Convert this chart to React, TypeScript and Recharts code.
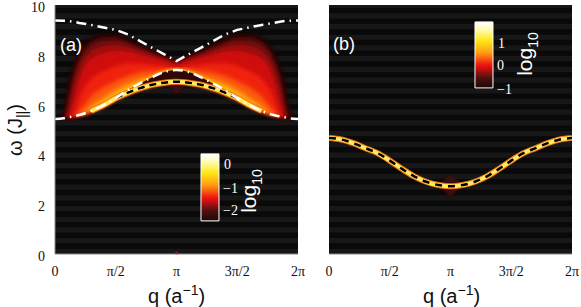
import React from 'react';
import { ComposedChart, Area, Line, XAxis, YAxis, ReferenceArea, ReferenceDot } from 'recharts';

const PI = Math.PI;
const qTicks = [0, PI / 2, PI, (3 * PI) / 2, 2 * PI];
const qTickLabels = ['0', 'π/2', 'π', '3π/2', '2π'];
const wTicks = [0, 2, 4, 6, 8, 10];
const stripeLows = [0, 0.43, 0.86, 1.29, 1.72, 2.15, 2.58, 3.01, 3.44, 3.87, 4.3, 4.73, 5.16, 5.59, 6.02, 6.45, 6.88, 7.31, 7.74, 8.17, 8.6, 9.03, 9.46, 9.89];
const stripeHeight = 0.21;

// panel (a), grid in units of pi over the left half; the picture is mirror-symmetric about q = pi
const gridA = [0, 0.07, 0.1, 0.15, 0.2, 0.3, 0.4, 0.5, 0.6, 0.7, 0.8, 0.9, 1];
const upperA = [9.38, 9.37, 9.36, 9.33, 9.28, 9.2, 9.1, 9.0, 8.82, 8.55, 8.28, 8.02, 7.75];
const innerA = [5.42, 5.45, 5.48, 5.53, 5.58, 5.75, 5.98, 6.26, 6.58, 6.85, 7.1, 7.31, 7.39];
const edgeA = [5.42, 5.45, 5.48, 5.53, 5.58, 5.75, 5.98, 6.26, 6.48, 6.66, 6.8, 6.88, 6.92];
const smearA = [5.42, 5.45, 5.48, 5.53, 5.58, 5.75, 5.98, 6.26, 6.48, 6.66, 6.8, 6.88, 6.4];
const lv1 = [5.42, 5.6, 6.7, 7.6, 8.15, 8.7, 8.85, 8.85, 8.65, 8.45, 8.2, 7.98, 7.75];
const lv2 = [5.42, 5.5, 6.2, 7.3, 7.95, 8.55, 8.72, 8.72, 8.55, 8.35, 8.12, 7.93, 7.73];
const lv3 = [5.42, 5.45, 5.8, 7.0, 7.7, 8.38, 8.55, 8.58, 8.45, 8.25, 8.05, 7.88, 7.7];
const lv4 = [5.42, 5.45, 5.5, 6.6, 7.4, 8.15, 8.35, 8.4, 8.32, 8.15, 7.97, 7.82, 7.66];
const lv5 = [5.42, 5.45, 5.48, 6.1, 7.0, 7.85, 8.05, 8.15, 8.12, 8.0, 7.87, 7.75, 7.6];
const lv6 = [5.42, 5.45, 5.48, 5.6, 6.3, 7.05, 7.35, 7.55, 7.65, 7.65, 7.6, 7.55, 7.45];
const lv7 = [5.42, 5.45, 5.48, 5.53, 5.75, 6.35, 6.7, 6.95, 7.15, 7.3, 7.35, 7.38, 7.39];
const lv8 = [5.42, 5.45, 5.48, 5.53, 5.58, 5.95, 6.28, 6.6, 6.85, 7.02, 7.12, 7.31, 7.39];
const lv9 = [5.42, 5.45, 5.48, 5.53, 5.58, 5.75, 6.05, 6.35, 6.62, 6.85, 7.1, 7.31, 7.39];
const levelColors = ['#220505', '#450707', '#720909', '#a00b0b', '#d00d0d', '#f02010', '#fa5a0a', '#ffa010', '#ffe020'];
const levels = [lv1, lv2, lv3, lv4, lv5, lv6, lv7, lv8, lv9];

// panel (b)
const gridB = [0, 0.1, 0.2, 0.3, 0.4, 0.5, 0.6, 0.7, 0.8, 0.9, 1];
const bandB = [4.66, 4.6, 4.45, 4.25, 4.05, 3.75, 3.42, 3.12, 2.9, 2.77, 2.72];
const smearB = [4.66, 4.6, 4.45, 4.25, 4.05, 3.75, 3.42, 3.12, 2.9, 2.77, 2.25];
const smearBHigh = [4.66, 4.6, 4.45, 4.25, 4.05, 3.75, 3.42, 3.12, 2.9, 2.77, 3.2];

const mirrorV = (a: number[]) => [...a, ...a.slice(0, -1).reverse()];
const mirrorQ = (g: number[]) => [...g, ...g.slice(0, -1).reverse().map((v) => 2 - v)];

const qA = mirrorQ(gridA);
const dataA = qA.map((g, i) => {
  const row: any = {
    q: g * PI,
    upper: mirrorV(upperA)[i],
    inner: mirrorV(innerA)[i],
    gap: [mirrorV(edgeA)[i], mirrorV(innerA)[i]],
    smear: [mirrorV(smearA)[i], mirrorV(edgeA)[i]],
    main: g >= 0.3 && g <= 1.7 ? mirrorV(edgeA)[i] : null,
    dash: g >= 0.5 && g <= 1.5 ? mirrorV(edgeA)[i] : null,
  };
  levels.forEach((l, k) => {
    row['lv' + k] = [mirrorV(edgeA)[i], mirrorV(l)[i]];
  });
  return row;
});
const qB = mirrorQ(gridB);
const dataB = qB.map((g, i) => ({
  q: g * PI,
  band: mirrorV(bandB)[i],
  smear: [mirrorV(smearB)[i], mirrorV(smearBHigh)[i]],
}));

const serif = '"Liberation Serif", serif';
const sans = '"Liberation Sans", sans-serif';
const tickStyle = { fontFamily: serif, fontSize: 14, fill: '#111' };

const BarGradient = ({ id }: { id: string }) => (
  <linearGradient id={id} x1="0" y1="0" x2="0" y2="1">
    <stop offset="0" stopColor="#ffffff" />
    <stop offset="0.12" stopColor="#fffbb0" />
    <stop offset="0.28" stopColor="#ffe81a" />
    <stop offset="0.47" stopColor="#ff9a10" />
    <stop offset="0.66" stopColor="#f01010" />
    <stop offset="0.85" stopColor="#501010" />
    <stop offset="1" stopColor="#1a0808" />
  </linearGradient>
);

const Label = ({ x, y, size, font, children }: any) => (
  <div style={{ position: 'absolute', left: x, top: y, fontFamily: font, fontSize: size, color: '#fff', lineHeight: 1, whiteSpace: 'nowrap' }}>{children}</div>
);
const Rotated = ({ cx, cy, size, color, children }: any) => (
  <div style={{ position: 'absolute', left: cx, top: cy, fontFamily: sans, fontSize: size, color, lineHeight: 1, whiteSpace: 'nowrap', transform: 'translate(-50%,-50%) rotate(-90deg)' }}>{children}</div>
);
const XTitle = ({ x }: { x: number }) => (
  <div style={{ position: 'absolute', left: x, top: 286, fontFamily: sans, fontSize: 20, color: '#111', lineHeight: 1, whiteSpace: 'nowrap' }}>
    q (a<sup style={{ fontSize: 14, lineHeight: 0 }}>−1</sup>)
  </div>
);

const stripes = stripeLows.map((s) => (
  <ReferenceArea key={s} y1={s} y2={s + stripeHeight} fill="#171717" fillOpacity={1} stroke="none" ifOverflow="hidden" />
));
const backdrop = <ReferenceArea y1={0} y2={10} fill="#090909" fillOpacity={1} stroke="none" />;

const xAxis = (
  <XAxis type="number" dataKey="q" domain={[0, 2 * PI]} ticks={qTicks} interval={0} tickFormatter={(_: any, i: number) => qTickLabels[i]} tick={tickStyle} tickLine={false} axisLine={{ stroke: '#888' }} tickMargin={6} height={53} allowDataOverflow />
);

const PanelA = () => (
  <ComposedChart width={320} height={307} data={dataA} margin={{ top: 5, right: 22, bottom: 0, left: 0 }} style={{ position: 'absolute', left: 0, top: 0 }}>
    <defs>
      <BarGradient id="cbA" />
      <filter id="soft" x="-5%" y="-5%" width="110%" height="110%"><feGaussianBlur stdDeviation="2" /></filter>
      <filter id="softS" x="-30%" y="-30%" width="160%" height="160%"><feGaussianBlur stdDeviation="1.5" /></filter>
      <linearGradient id="gapFill" x1="0" y1="0" x2="1" y2="0">
        <stop offset="0" stopColor="#fa5a0a" />
        <stop offset="0.2" stopColor="#a00b0b" />
        <stop offset="0.4" stopColor="#300606" />
        <stop offset="0.6" stopColor="#300606" />
        <stop offset="0.8" stopColor="#a00b0b" />
        <stop offset="1" stopColor="#fa5a0a" />
      </linearGradient>
    </defs>
    {xAxis}
    <YAxis type="number" domain={[0, 10]} ticks={wTicks} interval={0} tick={{ ...tickStyle, dy: 2 }} tickLine={false} axisLine={{ stroke: '#888' }} width={55} tickMargin={4} />
    {backdrop}
    {stripes}
    {levels.map((_, k) => (
      <Area key={k} type="monotone" dataKey={'lv' + k} fill={levelColors[k]} fillOpacity={1} stroke="none" isAnimationActive={false} dot={false} activeDot={false} filter="url(#soft)" />
    ))}
    <Area type="monotone" dataKey="gap" fill="url(#gapFill)" fillOpacity={1} stroke="none" isAnimationActive={false} dot={false} activeDot={false} />
    <Area type="linear" dataKey="smear" fill="#3a0808" fillOpacity={1} stroke="none" isAnimationActive={false} dot={false} activeDot={false} filter="url(#softS)" />
    <Line type="monotone" dataKey="main" stroke="#f07010" strokeWidth={6} dot={false} activeDot={false} isAnimationActive={false} />
    <Line type="monotone" dataKey="main" stroke="#ffea60" strokeWidth={4} dot={false} activeDot={false} isAnimationActive={false} />
    <Line type="monotone" dataKey="dash" stroke="#000" strokeWidth={2.5} strokeDasharray="7 5" dot={false} activeDot={false} isAnimationActive={false} />
    <Line type="monotone" dataKey="inner" stroke="#fff" strokeWidth={2.5} strokeDasharray="10 5 1.5 5" dot={false} activeDot={false} isAnimationActive={false} />
    <Line type="linear" dataKey="upper" stroke="#fff" strokeWidth={2.5} strokeDasharray="10 5 1.5 5" dot={false} activeDot={false} isAnimationActive={false} />
    <ReferenceDot x={PI} y={0.05} r={1.5} fill="#a01010" stroke="none" />
    <ReferenceArea x1={3.775} x2={4.24} y1={1.33} y2={4.02} fill="url(#cbA)" fillOpacity={1} stroke="#fff" strokeWidth={1} />
  </ComposedChart>
);

const PanelB = () => (
  <ComposedChart width={281} height={307} data={dataB} margin={{ top: 5, right: 9, bottom: 0, left: 29 }} style={{ position: 'absolute', left: 300, top: 0 }}>
    <defs>
      <BarGradient id="cbB" />
      <filter id="softB" x="-30%" y="-30%" width="160%" height="160%"><feGaussianBlur stdDeviation="1.5" /></filter>
    </defs>
    {xAxis}
    <YAxis type="number" domain={[0, 10]} ticks={wTicks} hide />
    {backdrop}
    {stripes}
    <Area type="linear" dataKey="smear" fill="#3a0808" fillOpacity={1} stroke="none" isAnimationActive={false} dot={false} activeDot={false} filter="url(#softB)" />
    <Line type="monotone" dataKey="band" stroke="#f07010" strokeWidth={6} dot={false} activeDot={false} isAnimationActive={false} />
    <Line type="monotone" dataKey="band" stroke="#ffea60" strokeWidth={4} dot={false} activeDot={false} isAnimationActive={false} />
    <Line type="monotone" dataKey="band" stroke="#000" strokeWidth={2.5} strokeDasharray="7 6" dot={false} activeDot={false} isAnimationActive={false} />
    <ReferenceArea x1={3.775} x2={4.24} y1={6.67} y2={9.32} fill="url(#cbB)" fillOpacity={1} stroke="#fff" strokeWidth={1} />
  </ComposedChart>
);

export default function App() {
  return (
    <div style={{ position: 'absolute', left: 0, top: 0, width: 581, height: 307, background: '#fff', overflow: 'hidden' }}>
      <PanelA />
      <PanelB />
      <Label x={60} y={36} size={18} font={sans}>(a)</Label>
      <Label x={333} y={35} size={18} font={sans}>(b)</Label>
      <Label x={224} y={158} size={14} font={serif}>0</Label>
      <Label x={223} y={182} size={14} font={serif}>−1</Label>
      <Label x={223} y={204} size={14} font={serif}>−2</Label>
      <Rotated cx={251} cy={191} size={21} color="#fff">log<sub style={{ fontSize: 14 }}>10</sub></Rotated>
      <Label x={498} y={37} size={14} font={serif}>1</Label>
      <Label x={497} y={59} size={14} font={serif}>0</Label>
      <Label x={497} y={83} size={14} font={serif}>−1</Label>
      <Rotated cx={527} cy={54} size={21} color="#fff">log<sub style={{ fontSize: 14 }}>10</sub></Rotated>
      <Rotated cx={17} cy={130} size={20} color="#111">ω (J<sub style={{ fontSize: 14 }}>||</sub>)</Rotated>
      <XTitle x={148} />
      <XTitle x={423} />
    </div>
  );
}
